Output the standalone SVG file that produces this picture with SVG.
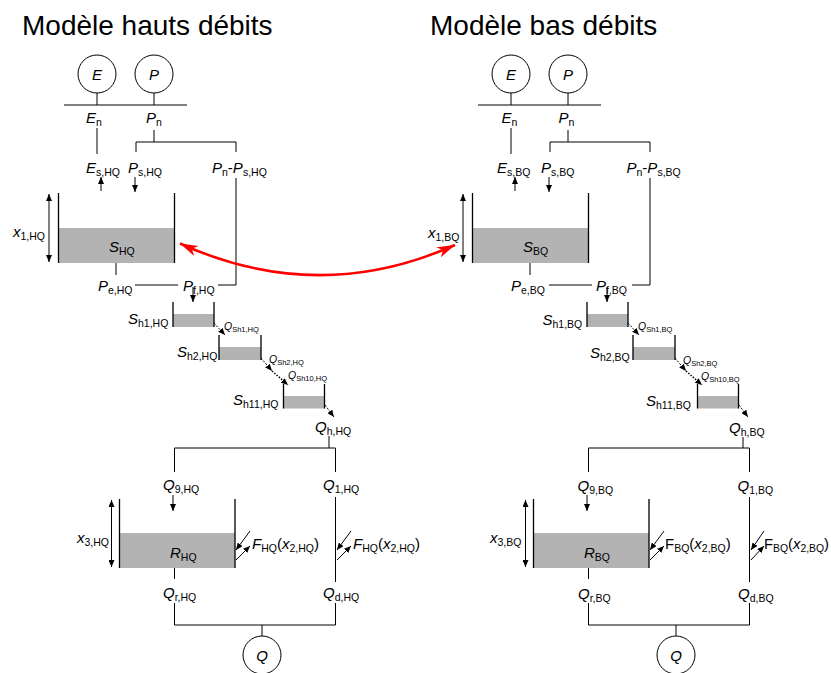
<svg xmlns="http://www.w3.org/2000/svg" width="831" height="673" viewBox="0 0 831 673">
<style>
text { font-family: "Liberation Sans", Arial, sans-serif; fill:#000; font-size:15px; }
.ttl { font-size:28px; }
.i { font-style:italic; }
.s { font-size:10.5px; font-style:normal; }
.q { font-size:10.5px; }
.qs { font-size:7.5px; font-style:normal; }
.ln { stroke:#000; stroke-width:1; fill:none; }
.w { stroke:#000; stroke-width:1.3; fill:none; }
.fl { fill:#b3b3b3; }
.c { fill:#fff; stroke:#000; stroke-width:1; }
.a { stroke:#000; stroke-width:1; fill:none; marker-end:url(#ah); }
.a2 { stroke:#000; stroke-width:1; fill:none; marker-start:url(#ah); marker-end:url(#ah); }
.dash { stroke-dasharray:2 1.5; }
.dot { stroke-dasharray:1.5 1.5; stroke-width:1.5; }
.red { stroke:#f00; stroke-width:2.5; fill:none; marker-start:url(#rh); marker-end:url(#rh); }
</style>
<defs>
<marker id="ah" markerUnits="userSpaceOnUse" markerWidth="8" markerHeight="6" refX="7" refY="3" orient="auto-start-reverse"><path d="M0,0 L7,3 L0,6 z" fill="#000"/></marker>
<marker id="rh" markerUnits="userSpaceOnUse" markerWidth="20" markerHeight="12" refX="18" refY="5.5" orient="auto-start-reverse"><path d="M0,0 L18,5.5 L0,11 L5,5.5 z" fill="#f00"/></marker>
</defs>

<!-- ============ HIGH FLOW MODEL ============ -->
<g id="title-hq"><text class="ttl" x="22" y="35">Modèle hauts débits</text></g>

<g id="connectors-hq">
<path class="ln" d="M97,93 V105 M154,93 V105 M64,105 H187"/>
<path class="ln" d="M97,128 V154"/>
<path class="ln" d="M154,130 V142 M136,142 H236 M136,142 V152 M236,142 V152"/>
<path class="ln" d="M236,178 V285 H218"/>
<path class="ln" d="M116,263 V275 M135,285 H178"/>
<path class="a" d="M101,191 V177"/>
<path class="a" d="M135,177 V192"/>
<path class="a" d="M193,287 V302"/>
<path class="a2" d="M49,194 V262"/>
<path class="a dash" d="M214,323 L225,335"/>
<path class="a dash" d="M261,358 L272,371"/>
<path class="a dot" d="M272,371 L288,385"/>
<path class="a dash" d="M325,405 L334,417"/>
<path class="ln" d="M329,436 V448 M174.5,448 H335.5 M174.5,448 V472 M335.5,448 V472"/>
<path class="a" d="M173,495 V511"/>
<path class="ln" d="M335.5,497 V582"/>
<path class="a2" d="M111.5,500 V567"/>
<path class="a" d="M250,531 L236,550"/>
<path class="a" d="M236,560 L250,546"/>
<path class="a" d="M351,531 L337,550"/>
<path class="a" d="M337,560 L351,546"/>
<path class="ln" d="M174.5,568 V579 M174.5,603 V625 H335.5 V603 M262,625 V636"/>
</g>

<g id="node-E-hq"><circle class="c" cx="97" cy="74" r="19"/><text class="i" x="97" y="79.5" text-anchor="middle">E</text></g>
<g id="node-P-hq"><circle class="c" cx="154" cy="74" r="19"/><text class="i" x="154" y="79.5" text-anchor="middle">P</text></g>
<g id="labels-top-hq">
<text x="86" y="123"><tspan class="i">E</tspan><tspan class="s" dy="3">n</tspan></text>
<text x="146" y="123"><tspan class="i">P</tspan><tspan class="s" dy="3">n</tspan></text>
<text x="86" y="173"><tspan class="i">E</tspan><tspan class="s" dy="3">s,HQ</tspan></text>
<text x="128" y="173"><tspan class="i">P</tspan><tspan class="s" dy="3">s,HQ</tspan></text>
<text x="212" y="173"><tspan class="i">P</tspan><tspan class="s" dy="3">n</tspan><tspan dy="-3">-</tspan><tspan class="i">P</tspan><tspan class="s" dy="3">s,HQ</tspan></text>
</g>
<g id="tank-S-hq">
<rect class="fl" x="58.5" y="228" width="116" height="35"/>
<path class="w" d="M58.5,193 V263 M174.5,193 V263"/>
<text x="109" y="252"><tspan class="i">S</tspan><tspan class="s" dy="3">HQ</tspan></text>
<text x="13" y="237"><tspan class="i">x</tspan><tspan class="s" dy="3">1,HQ</tspan></text>
<text x="98" y="291"><tspan class="i">P</tspan><tspan class="s" dy="3">e,HQ</tspan></text>
<text x="183" y="291"><tspan class="i">P</tspan><tspan class="s" dy="3">f,HQ</tspan></text>
</g>
<g id="tank-Sh1-hq">
<rect class="fl" x="173" y="314" width="41" height="13"/>
<path class="w" d="M173,302 V327 M214,302 V327"/>
<text x="128" y="324"><tspan class="i">S</tspan><tspan class="s" dy="3">h1,HQ</tspan></text>
<text class="q" x="224" y="329.5"><tspan class="i">Q</tspan><tspan class="qs" dy="2">Sh1,HQ</tspan></text>
</g>
<g id="tank-Sh2-hq">
<rect class="fl" x="219" y="347" width="42" height="13"/>
<path class="w" d="M219,335 V360 M261,335 V360"/>
<text x="177" y="357"><tspan class="i">S</tspan><tspan class="s" dy="3">h2,HQ</tspan></text>
<text class="q" x="269" y="363"><tspan class="i">Q</tspan><tspan class="qs" dy="2">Sh2,HQ</tspan></text>
<text class="q" x="288" y="379"><tspan class="i">Q</tspan><tspan class="qs" dy="2">Sh10,HQ</tspan></text>
</g>
<g id="tank-Sh11-hq">
<rect class="fl" x="283.5" y="396" width="41" height="12.5"/>
<path class="w" d="M283.5,384 V408.5 M324.5,384 V408.5"/>
<text x="233" y="405"><tspan class="i">S</tspan><tspan class="s" dy="3">h11,HQ</tspan></text>
<text x="315" y="432"><tspan class="i">Q</tspan><tspan class="s" dy="3">h,HQ</tspan></text>
</g>
<g id="tank-R-hq">
<rect class="fl" x="119.5" y="533" width="115.5" height="35"/>
<path class="w" d="M119.5,499 V568 M235,499 V568"/>
<text x="170" y="558"><tspan class="i">R</tspan><tspan class="s" dy="3">HQ</tspan></text>
<text x="77" y="543"><tspan class="i">x</tspan><tspan class="s" dy="3">3,HQ</tspan></text>
<text x="163" y="490"><tspan class="i">Q</tspan><tspan class="s" dy="3">9,HQ</tspan></text>
<text x="323" y="490"><tspan class="i">Q</tspan><tspan class="s" dy="3">1,HQ</tspan></text>
<text x="252" y="549"><tspan class="i">F</tspan><tspan class="s" dy="3">HQ</tspan><tspan dy="-3">(</tspan><tspan class="i">x</tspan><tspan class="s" dy="3">2,HQ</tspan><tspan dy="-3">)</tspan></text>
<text x="353" y="549"><tspan class="i">F</tspan><tspan class="s" dy="3">HQ</tspan><tspan dy="-3">(</tspan><tspan class="i">x</tspan><tspan class="s" dy="3">2,HQ</tspan><tspan dy="-3">)</tspan></text>
<text x="163" y="598"><tspan class="i">Q</tspan><tspan class="s" dy="3">r,HQ</tspan></text>
<text x="323" y="598"><tspan class="i">Q</tspan><tspan class="s" dy="3">d,HQ</tspan></text>
</g>
<g id="node-Q-hq"><circle class="c" cx="262" cy="655" r="19"/><text class="i" x="262" y="661" text-anchor="middle">Q</text></g>

<!-- ============ LOW FLOW MODEL ============ -->
<g id="title-bq"><text class="ttl" x="430" y="35">Modèle bas débits</text></g>

<g id="connectors-bq">
<path class="ln" d="M511,93 V105 M568,93 V105 M478,105 H601"/>
<path class="ln" d="M511,128 V154"/>
<path class="ln" d="M568,130 V142 M550,142 H650 M550,142 V152 M650,142 V152"/>
<path class="ln" d="M650,178 V285 H632"/>
<path class="ln" d="M530,263 V275 M549,285 H592"/>
<path class="a" d="M515,191 V177"/>
<path class="a" d="M549,177 V192"/>
<path class="a" d="M607,287 V302"/>
<path class="a2" d="M463,194 V262"/>
<path class="a dash" d="M628,323 L639,335"/>
<path class="a dash" d="M675,358 L686,371"/>
<path class="a dot" d="M686,371 L702,385"/>
<path class="a dash" d="M739,405 L748,417"/>
<path class="ln" d="M743,437 V448 M588.5,448 H749.5 M588.5,448 V472 M749.5,448 V472"/>
<path class="a" d="M587,495 V511"/>
<path class="ln" d="M749.5,497 V582"/>
<path class="a2" d="M525.5,500 V567"/>
<path class="a" d="M664,531 L650,550"/>
<path class="a" d="M650,560 L664,546"/>
<path class="a" d="M764,531 L751,550"/>
<path class="a" d="M751,560 L764,546"/>
<path class="ln" d="M588.5,568 V579 M588.5,603 V625 H749.5 V603 M676,625 V636"/>
</g>

<g id="node-E-bq"><circle class="c" cx="511" cy="74" r="19"/><text class="i" x="511" y="79.5" text-anchor="middle">E</text></g>
<g id="node-P-bq"><circle class="c" cx="568" cy="74" r="19"/><text class="i" x="568" y="79.5" text-anchor="middle">P</text></g>
<g id="labels-top-bq">
<text x="501.5" y="123"><tspan class="i">E</tspan><tspan class="s" dy="3">n</tspan></text>
<text x="558.5" y="123"><tspan class="i">P</tspan><tspan class="s" dy="3">n</tspan></text>
<text x="497" y="173"><tspan class="i">E</tspan><tspan class="s" dy="3">s,BQ</tspan></text>
<text x="541" y="173"><tspan class="i">P</tspan><tspan class="s" dy="3">s,BQ</tspan></text>
<text x="626.5" y="173"><tspan class="i">P</tspan><tspan class="s" dy="3">n</tspan><tspan dy="-3">-</tspan><tspan class="i">P</tspan><tspan class="s" dy="3">s,BQ</tspan></text>
</g>
<g id="tank-S-bq">
<rect class="fl" x="472.5" y="228" width="116" height="35"/>
<path class="w" d="M472.5,193 V263 M588.5,193 V263"/>
<text x="523" y="252"><tspan class="i">S</tspan><tspan class="s" dy="3">BQ</tspan></text>
<text x="428" y="238"><tspan class="i">x</tspan><tspan class="s" dy="3">1,BQ</tspan></text>
<text x="511" y="291"><tspan class="i">P</tspan><tspan class="s" dy="3">e,BQ</tspan></text>
<text x="596" y="291"><tspan class="i">P</tspan><tspan class="s" dy="3">f,BQ</tspan></text>
</g>
<g id="tank-Sh1-bq">
<rect class="fl" x="587" y="314" width="41" height="13"/>
<path class="w" d="M587,302 V327 M628,302 V327"/>
<text x="542.5" y="325"><tspan class="i">S</tspan><tspan class="s" dy="3">h1,BQ</tspan></text>
<text class="q" x="638" y="330"><tspan class="i">Q</tspan><tspan class="qs" dy="2">Sh1,BQ</tspan></text>
</g>
<g id="tank-Sh2-bq">
<rect class="fl" x="633" y="347" width="42" height="13"/>
<path class="w" d="M633,335 V360 M675,335 V360"/>
<text x="590" y="358"><tspan class="i">S</tspan><tspan class="s" dy="3">h2,BQ</tspan></text>
<text class="q" x="683" y="364"><tspan class="i">Q</tspan><tspan class="qs" dy="2">Sh2,BQ</tspan></text>
<text class="q" x="701" y="380"><tspan class="i">Q</tspan><tspan class="qs" dy="2">Sh10,BQ</tspan></text>
</g>
<g id="tank-Sh11-bq">
<rect class="fl" x="697.5" y="396" width="41" height="12.5"/>
<path class="w" d="M697.5,384 V408.5 M738.5,384 V408.5"/>
<text x="646" y="406"><tspan class="i">S</tspan><tspan class="s" dy="3">h11,BQ</tspan></text>
<text x="729" y="433"><tspan class="i">Q</tspan><tspan class="s" dy="3">h,BQ</tspan></text>
</g>
<g id="tank-R-bq">
<rect class="fl" x="533.5" y="533" width="115.5" height="35"/>
<path class="w" d="M533.5,499 V568 M649,499 V568"/>
<text x="584" y="558"><tspan class="i">R</tspan><tspan class="s" dy="3">BQ</tspan></text>
<text x="490" y="543"><tspan class="i">x</tspan><tspan class="s" dy="3">3,BQ</tspan></text>
<text x="577.5" y="491"><tspan class="i">Q</tspan><tspan class="s" dy="3">9,BQ</tspan></text>
<text x="737.5" y="491"><tspan class="i">Q</tspan><tspan class="s" dy="3">1,BQ</tspan></text>
<text x="665" y="549"><tspan>F</tspan><tspan class="s" dy="3">BQ</tspan><tspan dy="-3">(</tspan><tspan class="i">x</tspan><tspan class="s" dy="3">2,BQ</tspan><tspan dy="-3">)</tspan></text>
<text x="764" y="549" textLength="65" lengthAdjust="spacingAndGlyphs"><tspan>F</tspan><tspan class="s" dy="3">BQ</tspan><tspan dy="-3">(</tspan><tspan class="i">x</tspan><tspan class="s" dy="3">2,BQ</tspan><tspan dy="-3">)</tspan></text>
<text x="578" y="599"><tspan class="i">Q</tspan><tspan class="s" dy="3">r,BQ</tspan></text>
<text x="738" y="599"><tspan class="i">Q</tspan><tspan class="s" dy="3">d,BQ</tspan></text>
</g>
<g id="node-Q-bq"><circle class="c" cx="676" cy="655" r="19"/><text class="i" x="676" y="661" text-anchor="middle">Q</text></g>

<!-- coupling arrow -->
<g id="connector-coupling">
<path class="red" d="M180,243.5 Q318,306 455,245"/>
</g>
</svg>
